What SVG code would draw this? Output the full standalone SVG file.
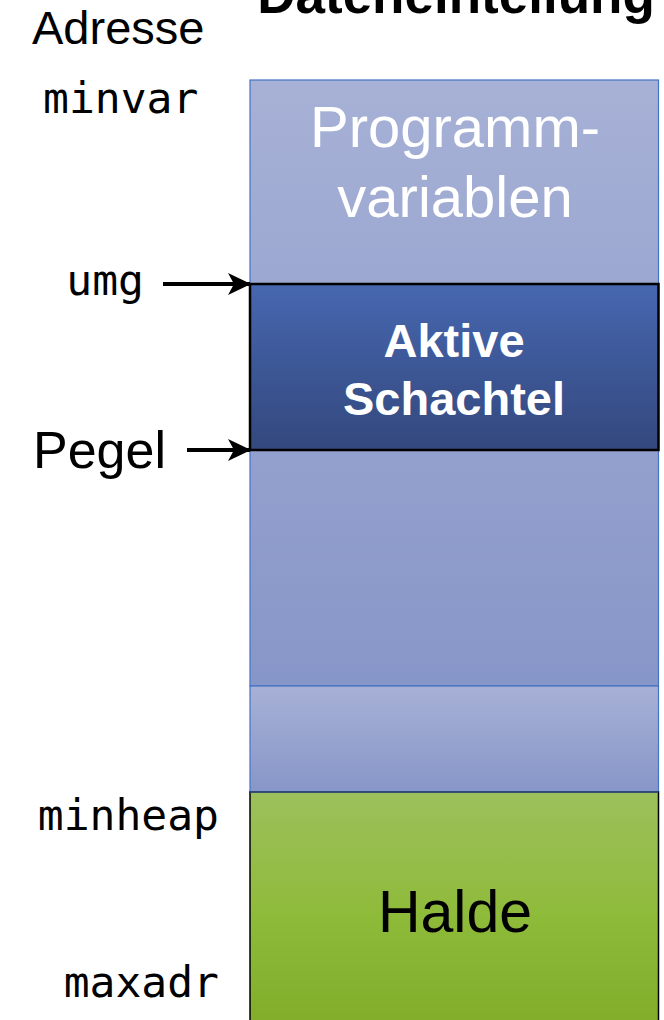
<svg xmlns="http://www.w3.org/2000/svg" width="664" height="1020" viewBox="0 0 664 1020">
  <style>
    .sans { font-family: "Liberation Sans", Arial, sans-serif; }
    .mono { font-family: "DejaVu Sans Mono", "Liberation Mono", monospace; font-size: 43px; fill: #000; }
    .seg { stroke: #4472c4; stroke-width: 1.2; }
    .ptr { stroke: #000; stroke-width: 4; fill: none; marker-end: url(#head); }
  </style>
  <defs>
    <linearGradient id="gVar" x1="0" y1="0" x2="0" y2="1">
      <stop offset="0" stop-color="#a7b1d6"/>
      <stop offset="1" stop-color="#8796c8"/>
    </linearGradient>
    <linearGradient id="gAct" x1="0" y1="0" x2="0" y2="1">
      <stop offset="0" stop-color="#4767b0"/>
      <stop offset="1" stop-color="#33487d"/>
    </linearGradient>
    <linearGradient id="gHeap" x1="0" y1="0" x2="0" y2="1">
      <stop offset="0" stop-color="#9cc05c"/>
      <stop offset="0.5" stop-color="#8fbb3b"/>
      <stop offset="1" stop-color="#80ac2a"/>
    </linearGradient>
    <marker id="head" viewBox="0 0 24 24" refX="22" refY="12" markerWidth="24" markerHeight="24" markerUnits="userSpaceOnUse" orient="auto">
      <path d="M0,1 L23,12 L0,23 L6,12 Z" fill="#000"/>
    </marker>
  </defs>

  <!-- title, partly above the top edge -->
  <text class="sans" x="456" y="12.5" font-size="53" font-weight="bold" text-anchor="middle">Dateneinteilung</text>
  <text class="sans" x="32" y="44" font-size="47">Adresse</text>

  <!-- memory column -->
  <g id="programmvariablen">
    <rect class="seg" x="250" y="80" width="408.5" height="606" fill="url(#gVar)"/>
    <text class="sans" x="455" y="147" font-size="58" fill="#fff" text-anchor="middle">Programm-</text>
    <text class="sans" x="455" y="217" font-size="58" fill="#fff" text-anchor="middle">variablen</text>
  </g>

  <g id="frei">
    <rect class="seg" x="250" y="686" width="408.5" height="106" fill="url(#gVar)"/>
  </g>

  <g id="aktive-schachtel">
    <rect x="250" y="284" width="408.5" height="166" fill="url(#gAct)" stroke="#000" stroke-width="2.5"/>
    <text class="sans" x="454" y="357" font-size="47" font-weight="bold" fill="#fff" text-anchor="middle">Aktive</text>
    <text class="sans" x="454" y="415" font-size="47" font-weight="bold" fill="#fff" text-anchor="middle">Schachtel</text>
  </g>

  <g id="halde">
    <rect x="250" y="792" width="408.5" height="240" fill="url(#gHeap)" stroke="#000" stroke-width="1.5"/>
    <line class="seg" x1="250" y1="792" x2="658.5" y2="792" stroke-width="2"/>
    <text class="sans" x="455" y="932" font-size="59" fill="#000" text-anchor="middle">Halde</text>
  </g>

  <!-- address labels -->
  <g id="labels">
    <text class="mono" x="43" y="113">minvar</text>
    <text class="mono" x="144" y="295" text-anchor="end">umg</text>
    <text class="sans" x="33" y="468" font-size="52">Pegel</text>
    <text class="mono" x="219" y="830" text-anchor="end">minheap</text>
    <text class="mono" x="219" y="997" text-anchor="end">maxadr</text>
  </g>

  <!-- pointers into the column -->
  <g id="connectors">
    <line class="ptr" x1="163" y1="284" x2="250" y2="284"/>
    <line class="ptr" x1="187" y1="450" x2="250" y2="450"/>
  </g>
</svg>
